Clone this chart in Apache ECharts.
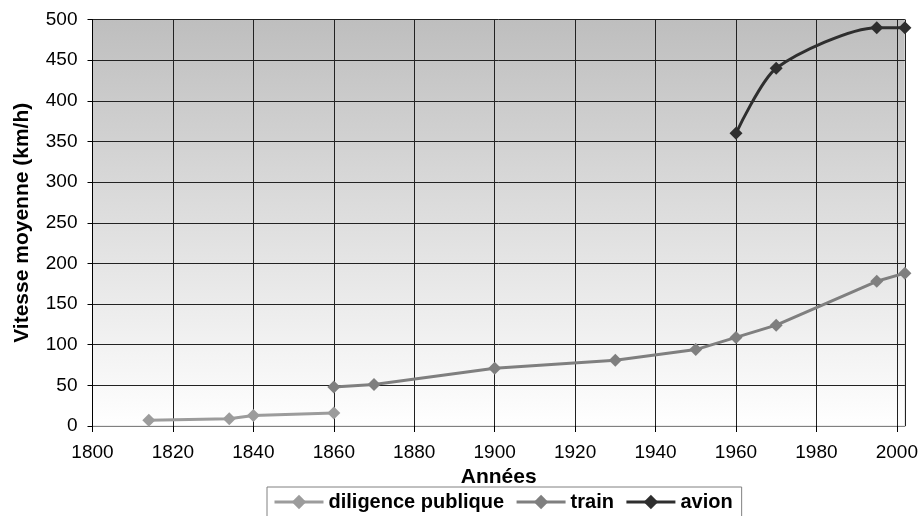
<!DOCTYPE html>
<html>
<head>
<meta charset="utf-8">
<script src="https://cdn.jsdelivr.net/npm/echarts@6/dist/echarts.min.js"></script>
<style>html,body{margin:0;padding:0;background:#fff}#c{width:921px;height:516px}</style>
</head>
<body>
<div id="c"></div>
<script>
var seriesNames = ['diligence publique', 'train', 'avion'];
var diligenceYears = [1814, 1834, 1840, 1860];
var diligenceValues = [7, 9, 13, 16];
var trainYears = [1860, 1870, 1900, 1930, 1950, 1960, 1970, 1995, 2002];
var trainValues = [48, 51, 71, 81, 94, 109, 124, 178, 188];
var avionYears = [1960, 1970, 1995, 2002];
var avionValues = [360, 440, 490, 490];
var xTicks = [1800, 1820, 1840, 1860, 1880, 1900, 1920, 1940, 1960, 1980, 2000];
var yTicks = [0, 50, 100, 150, 200, 250, 300, 350, 400, 450, 500];

function pairs(xs, ys) { return xs.map(function (x, i) { return [x, ys[i]]; }); }

var font = '"Liberation Sans", Arial, sans-serif';
var chart = echarts.init(document.getElementById('c'));
chart.setOption({
  animation: false,
  grid: {
    left: 92.5, right: 16, top: 19.5, bottom: 90,
    show: true,
    borderColor: '#d8d8d8', borderWidth: 1,
    backgroundColor: {
      type: 'linear', x: 0, y: 0, x2: 0, y2: 1,
      colorStops: [{ offset: 0, color: '#bebebe' }, { offset: 1, color: '#ffffff' }]
    }
  },
  xAxis: {
    type: 'value', min: xTicks[0], max: 2002, interval: 20,
    name: 'Années', nameLocation: 'middle', nameGap: 37,
    nameTextStyle: { fontFamily: font, fontSize: 21, fontWeight: 'bold', color: '#000' },
    axisLine: { show: true, onZero: false, lineStyle: { color: '#808080', width: 1 } },
    axisTick: { show: true, length: 6, lineStyle: { color: '#000' } },
    axisLabel: { fontFamily: font, fontSize: 19, color: '#000', margin: 17, showMaxLabel: false,
      formatter: function (v) { return xTicks.indexOf(v) >= 0 ? String(v) : ''; } },
    splitLine: { show: true, lineStyle: { color: '#222', width: 1 } }
  },
  yAxis: {
    type: 'value', min: yTicks[0], max: yTicks[yTicks.length - 1], interval: 50,
    name: 'Vitesse moyenne (km/h)', nameLocation: 'middle', nameGap: 60,
    nameTextStyle: { fontFamily: font, fontSize: 21, fontWeight: 'bold', color: '#000' },
    axisLine: { show: true, lineStyle: { color: '#000', width: 1 } },
    axisTick: { show: true, length: 5, lineStyle: { color: '#000' } },
    axisLabel: { fontFamily: font, fontSize: 19, color: '#000', margin: 15 },
    splitLine: { show: true, lineStyle: { color: '#222', width: 1 } }
  },
  legend: {
    left: 267, top: 487,
    data: seriesNames,
    padding: [5, 9, 5, 6],
    itemWidth: 49, itemHeight: 18, itemGap: 11,
    borderColor: '#808080', borderWidth: 1,
    lineStyle: { width: 3 },
    textStyle: { fontFamily: font, fontSize: 20, fontWeight: 'bold', color: '#000' }
  },
  series: [
    { name: seriesNames[0], type: 'line', data: pairs(diligenceYears, diligenceValues),
      symbol: 'diamond', symbolSize: 13, color: '#9c9c9c',
      lineStyle: { width: 3, color: '#9c9c9c' }, itemStyle: { color: '#9c9c9c' } },
    { name: seriesNames[1], type: 'line', data: pairs(trainYears, trainValues),
      symbol: 'diamond', symbolSize: 13, color: '#7f7f7f',
      lineStyle: { width: 3, color: '#7f7f7f' }, itemStyle: { color: '#7f7f7f' } },
    { name: seriesNames[2], type: 'line', data: pairs(avionYears, avionValues),
      symbol: 'diamond', symbolSize: 13, smooth: 0.25, color: '#2e2e2e',
      lineStyle: { width: 3, color: '#2e2e2e' }, itemStyle: { color: '#2e2e2e' } }
  ]
});
</script>
</body>
</html>
